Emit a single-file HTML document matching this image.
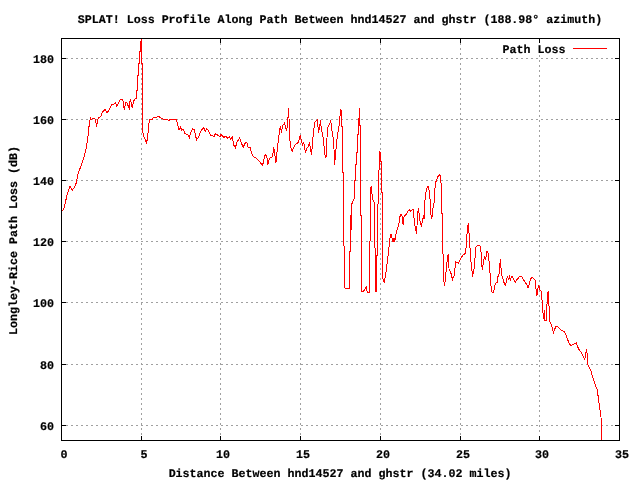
<!DOCTYPE html><html><head><meta charset="utf-8"><style>html,body{margin:0;padding:0;background:#fff;width:640px;height:480px;overflow:hidden}svg{display:block;will-change:transform}text{font-family:"Liberation Mono",monospace;font-weight:bold;fill:#000;stroke:#000;stroke-width:0.2px;text-rendering:geometricPrecision}</style></head><body>
<svg width="640" height="480" viewBox="0 0 640 480">
<rect x="0" y="0" width="640" height="480" fill="#fff"/>
<path d="M66 58.5H614 M66 119.5H614 M66 180.5H614 M66 241.5H614 M66 302.5H614 M66 364.5H614 M66 425.5H614" stroke="#a0a0a0" stroke-width="1" stroke-dasharray="2 3" fill="none" shape-rendering="crispEdges"/>
<path d="M141.5 43V435 M220.5 43V435 M300.5 43V435 M380.5 43V435 M460.5 43V435 M539.5 55V432" stroke="#a0a0a0" stroke-width="1" stroke-dasharray="2 3" fill="none" shape-rendering="crispEdges"/>
<path d="M62 58.5H66 M615 58.5H619 M62 119.5H66 M615 119.5H619 M62 180.5H66 M615 180.5H619 M62 241.5H66 M615 241.5H619 M62 302.5H66 M615 302.5H619 M62 364.5H66 M615 364.5H619 M62 425.5H66 M615 425.5H619 M141.5 39V43 M141.5 436V440 M220.5 39V43 M220.5 436V440 M300.5 39V43 M300.5 436V440 M380.5 39V43 M380.5 436V440 M460.5 39V43 M460.5 436V440 M539.5 39V43 M539.5 436V440" stroke="#000" stroke-width="1" fill="none" shape-rendering="crispEdges"/>
<rect x="61.5" y="38.5" width="558" height="402" stroke="#000" stroke-width="1" fill="none" shape-rendering="crispEdges"/>
<path d="M62.00 211.25 L63.60 209.40 L67.40 193.75 L69.90 186.25 L72.40 190.00 L75.50 185.60 L76.75 180.60 L78.25 172.50 L80.50 167.50 L83.00 160.00 L85.50 151.70 L87.20 141.70 L88.50 132.00 L88.90 127.80 L89.50 121.20 L90.60 118.25 L91.20 119.50 L93.50 118.25 L94.75 118.70 L95.60 119.90 L96.40 126.60 L97.25 122.40 L98.10 118.25 L99.75 117.00 L101.00 116.20 L101.80 113.25 L102.70 112.00 L105.20 109.50 L106.40 112.00 L107.25 112.40 L108.50 110.75 L110.60 107.40 L111.40 104.50 L113.50 104.50 L115.30 102.40 L116.80 106.20 L118.50 102.80 L119.75 100.30 L121.80 99.30 L123.10 101.20 L124.30 109.50 L125.60 102.40 L126.80 102.80 L128.10 105.75 L129.30 108.25 L130.20 99.30 L131.40 102.80 L132.25 108.25 L133.50 101.20 L134.75 99.30 L136.30 98.30 L136.50 90.50 L137.50 90.00 L137.50 75.50 L138.50 75.00 L138.50 64.00 L139.50 63.50 L139.50 52.00 L140.50 51.50 L140.50 42.00 L141.50 41.50 L141.50 38.50 L141.50 63.00 L142.50 63.50 L142.50 130.00 L143.50 136.25 L144.50 137.50 L146.60 143.10 L147.90 135.00 L148.50 125.60 L149.50 119.75 L152.25 119.40 L153.50 117.50 L156.00 117.50 L158.25 116.25 L161.00 118.10 L163.50 119.40 L167.25 119.75 L169.00 120.25 L171.00 119.40 L176.00 119.40 L177.25 122.50 L179.10 130.00 L180.40 126.90 L181.60 130.00 L183.50 129.75 L185.00 133.75 L187.90 134.40 L189.50 138.10 L190.40 133.10 L192.50 128.75 L194.10 129.40 L196.60 140.00 L198.50 136.90 L200.75 131.25 L203.50 127.50 L205.40 131.25 L206.60 128.75 L208.50 130.60 L211.00 135.60 L214.10 136.25 L215.60 133.50 L217.50 135.00 L220.00 136.90 L221.00 134.40 L223.75 137.50 L225.60 136.25 L227.50 138.10 L229.40 136.90 L230.60 138.75 L232.25 137.25 L233.75 145.00 L235.60 148.10 L236.50 142.50 L239.60 138.10 L241.25 142.50 L243.10 147.50 L245.60 142.25 L246.90 142.75 L248.10 147.25 L250.00 147.50 L251.90 153.75 L253.75 156.90 L256.25 158.10 L259.40 161.25 L262.50 165.60 L265.25 154.40 L266.90 156.90 L267.75 165.00 L269.40 158.10 L272.50 156.90 L273.75 147.50 L276.00 162.50 L277.10 151.25 L278.40 139.40 L279.60 130.00 L280.50 126.25 L281.50 132.50 L282.50 125.60 L284.60 123.10 L286.50 130.60 L287.75 123.75 L288.40 108.10 L289.00 118.10 L289.60 136.25 L290.60 146.90 L292.10 151.25 L294.60 145.60 L296.50 143.75 L297.75 143.10 L299.00 140.00 L300.25 135.00 L301.50 141.25 L302.75 145.00 L303.75 142.50 L305.50 153.10 L306.75 148.10 L308.00 146.90 L309.60 143.10 L311.50 155.00 L313.50 131.25 L315.00 121.90 L317.50 120.00 L318.50 133.10 L320.60 120.00 L321.25 128.75 L323.10 137.50 L325.30 157.50 L326.00 157.00 L327.50 128.10 L330.00 123.10 L330.60 120.00 L331.90 130.00 L333.75 141.25 L334.50 165.00 L335.50 155.00 L336.50 144.00 L337.50 135.00 L338.50 130.00 L339.50 123.00 L340.50 110.00 L341.50 111.00 L341.50 126.00 L342.50 126.50 L342.50 172.50 L343.50 173.00 L343.50 245.50 L344.50 246.20 L344.50 287.80 L345.50 288.20 L349.40 288.20 L349.40 252.00 L350.50 251.30 L350.50 215.00 L351.50 230.00 L351.50 205.00 L352.80 201.30 L354.50 198.40 L354.50 181.00 L355.50 180.50 L355.50 165.00 L356.50 164.50 L356.50 153.00 L357.50 152.50 L357.50 135.00 L358.50 134.50 L358.50 119.00 L359.50 118.50 L359.50 108.00 L359.50 125.00 L360.50 125.50 L360.50 215.00 L361.50 216.00 L361.50 291.40 L362.20 292.10 L364.40 290.00 L366.30 287.00 L367.30 292.10 L369.50 292.10 L369.50 241.80 L370.50 240.40 L370.50 189.00 L371.40 186.00 L372.40 199.20 L374.50 202.80 L374.50 247.50 L375.50 248.50 L375.50 291.40 L376.50 291.00 L376.50 256.00 L377.50 255.00 L377.50 205.70 L378.30 203.50 L378.60 171.50 L379.00 171.00 L379.50 151.50 L380.50 153.50 L380.50 161.00 L381.50 162.00 L381.50 192.00 L382.50 193.00 L382.50 277.50 L384.30 282.70 L386.40 269.20 L388.50 252.50 L389.50 241.00 L390.50 235.00 L391.50 234.50 L392.50 241.50 L393.50 238.00 L393.50 241.50 L394.50 238.00 L394.50 241.50 L395.50 238.00 L396.10 233.30 L397.30 229.20 L398.60 225.00 L399.40 220.40 L400.25 215.00 L401.50 214.20 L402.50 217.50 L402.50 222.00 L403.50 225.40 L403.50 218.30 L404.80 215.80 L406.50 213.75 L407.75 211.40 L409.40 210.20 L410.25 211.40 L411.50 210.30 L413.30 209.30 L414.00 218.00 L414.70 225.60 L415.70 228.00 L416.30 233.50 L416.90 227.70 L417.50 216.00 L418.30 208.50 L419.00 212.70 L419.80 220.20 L420.70 224.30 L421.50 225.60 L422.30 221.00 L423.60 216.40 L424.40 219.00 L424.70 203.50 L425.40 195.40 L426.60 189.10 L428.10 186.40 L429.10 190.40 L430.40 202.25 L431.00 214.75 L431.90 218.50 L432.90 209.10 L434.10 202.25 L434.75 190.40 L435.75 182.25 L437.25 177.90 L439.10 174.50 L440.40 176.00 L441.00 182.90 L441.50 183.50 L441.50 213.00 L442.50 214.00 L442.50 253.10 L443.50 255.00 L443.90 281.25 L444.40 286.00 L445.40 279.40 L446.90 262.50 L448.20 254.00 L449.10 270.00 L450.60 271.90 L452.50 279.40 L454.20 275.60 L455.70 261.60 L457.00 262.50 L458.50 263.40 L460.40 258.75 L463.20 255.00 L465.60 253.10 L467.00 234.40 L468.25 223.10 L469.40 238.10 L470.70 258.75 L472.60 276.60 L474.50 266.25 L475.75 247.50 L477.25 245.60 L479.50 245.60 L480.40 246.60 L481.25 254.10 L481.60 265.40 L482.50 269.75 L483.50 261.00 L484.75 256.60 L485.40 259.75 L487.00 251.60 L487.90 251.60 L488.50 258.50 L489.10 261.60 L490.00 272.90 L490.75 284.75 L492.25 292.90 L493.50 292.90 L494.75 286.00 L496.00 282.90 L497.25 282.25 L498.25 274.75 L499.10 274.10 L500.40 259.10 L501.50 275.40 L502.60 277.25 L503.40 280.60 L504.50 284.00 L505.25 285.50 L506.00 283.25 L506.75 278.75 L507.50 277.25 L508.60 279.10 L509.40 276.50 L510.50 280.60 L511.25 276.50 L512.40 276.90 L513.50 279.50 L515.40 282.10 L516.50 279.90 L518.00 278.40 L519.90 276.10 L521.40 276.50 L522.50 278.00 L524.00 280.60 L525.50 282.90 L527.40 285.50 L528.10 288.10 L529.25 284.40 L530.40 279.10 L532.25 277.25 L534.10 279.10 L535.60 280.25 L535.60 288.50 L536.75 290.00 L536.40 296.40 L537.40 293.75 L538.25 285.50 L539.40 287.00 L539.75 290.00 L540.90 291.10 L541.60 292.25 L542.00 299.75 L542.90 312.25 L543.50 318.50 L544.50 309.75 L545.00 320.40 L546.25 320.40 L546.60 308.50 L548.10 291.25 L549.00 306.00 L549.50 321.00 L551.00 324.00 L553.50 332.25 L556.00 326.00 L557.90 326.60 L560.40 329.75 L564.10 331.60 L566.00 334.75 L569.10 343.50 L571.00 345.40 L573.50 344.10 L576.25 342.90 L577.90 347.25 L579.75 351.00 L581.00 351.60 L582.90 356.00 L584.75 359.80 L586.40 349.40 L587.25 354.60 L587.90 365.00 L591.00 371.25 L594.10 381.70 L597.25 390.00 L599.30 404.60 L601.00 417.00 L601.40 440.00" stroke="#f00" stroke-width="1" fill="none" stroke-linejoin="miter" shape-rendering="crispEdges"/>
<path d="M573 48.5H607" stroke="#f00" stroke-width="1" shape-rendering="crispEdges"/>
<text transform="translate(565.5 53) scale(1 1.0)" text-anchor="end" font-size="11.67">Path Loss</text>
<text transform="translate(340 23) scale(1 1.0)" text-anchor="middle" font-size="11.67">SPLAT! Loss Profile Along Path Between hnd14527 and ghstr (188.98° azimuth)</text>
<text transform="translate(340 477) scale(1 1.0)" text-anchor="middle" font-size="11.67">Distance Between hnd14527 and ghstr (34.02 miles)</text>
<text transform="translate(17 240.5) rotate(-90) scale(1 1.0)" text-anchor="middle" font-size="11.67">Longley-Rice Path Loss (dB)</text>
<text transform="translate(54 63) scale(1 1.0)" text-anchor="end" font-size="11.67">180</text>
<text transform="translate(54 124) scale(1 1.0)" text-anchor="end" font-size="11.67">160</text>
<text transform="translate(54 185) scale(1 1.0)" text-anchor="end" font-size="11.67">140</text>
<text transform="translate(54 246) scale(1 1.0)" text-anchor="end" font-size="11.67">120</text>
<text transform="translate(54 307) scale(1 1.0)" text-anchor="end" font-size="11.67">100</text>
<text transform="translate(54 369) scale(1 1.0)" text-anchor="end" font-size="11.67">80</text>
<text transform="translate(54 430) scale(1 1.0)" text-anchor="end" font-size="11.67">60</text>
<text transform="translate(64 458) scale(1 1.0)" text-anchor="middle" font-size="11.67">0</text>
<text transform="translate(144 458) scale(1 1.0)" text-anchor="middle" font-size="11.67">5</text>
<text transform="translate(223 458) scale(1 1.0)" text-anchor="middle" font-size="11.67">10</text>
<text transform="translate(303 458) scale(1 1.0)" text-anchor="middle" font-size="11.67">15</text>
<text transform="translate(383 458) scale(1 1.0)" text-anchor="middle" font-size="11.67">20</text>
<text transform="translate(463 458) scale(1 1.0)" text-anchor="middle" font-size="11.67">25</text>
<text transform="translate(542 458) scale(1 1.0)" text-anchor="middle" font-size="11.67">30</text>
<text transform="translate(622 458) scale(1 1.0)" text-anchor="middle" font-size="11.67">35</text>
</svg></body></html>
